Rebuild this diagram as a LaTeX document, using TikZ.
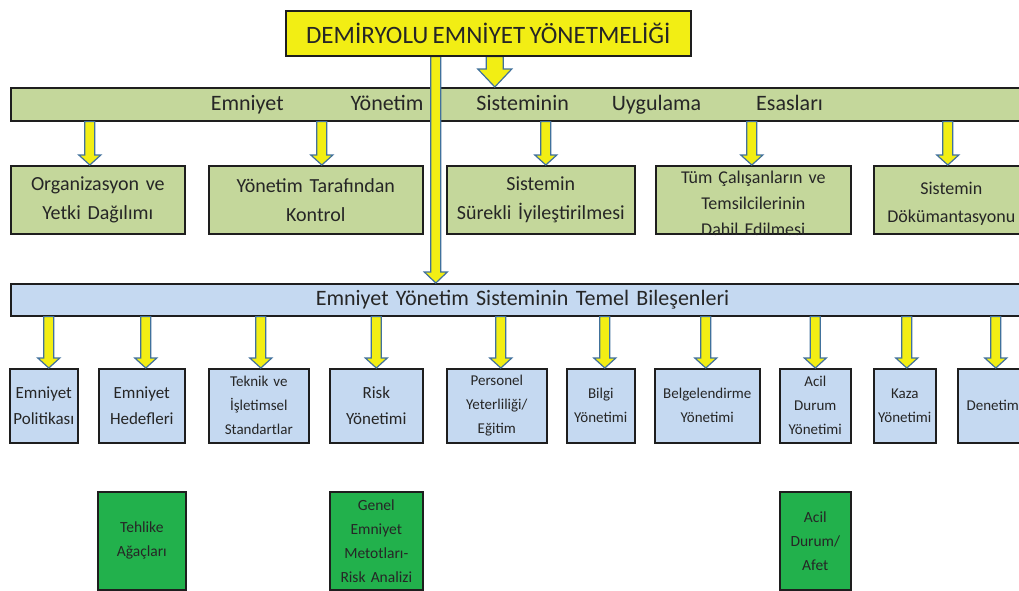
\documentclass[tikz,border=0pt]{standalone}
\usepackage{fontspec}
\setmainfont{Carlito}[WordSpace=0.75]
\usetikzlibrary{calc}
\definecolor{ylw}{HTML}{F2EE14}
\definecolor{arrline}{HTML}{41719C}
\definecolor{lgreen}{HTML}{C4D79B}
\definecolor{lblue}{HTML}{C5D9F1}
\definecolor{dgreen}{HTML}{22B14C}
\definecolor{txt}{HTML}{262626}
\definecolor{edge}{HTML}{1E1E1E}
\newcommand{\fs}[2]{\fontsize{#1}{#2}\selectfont}
\newcommand{\barrow}[5]{\draw[blockarr] let \p1=#1, \p2=#2 in (\x2-#3,\y1) -- (\x2-#3,\y2+#5) -- (\x2-#4,\y2+#5) -- (\x2,\y2) -- (\x2+#4,\y2+#5) -- (\x2+#3,\y2+#5) -- (\x2+#3,\y1) -- cycle;}
\tikzset{
  anybox/.style={draw=edge, line width=1.6pt, inner sep=0pt, align=center, anchor=north west, text=txt},
  titlebox/.style={anybox, fill=ylw, font=\fs{25}{28}},
  gbarsty/.style={anybox, fill=lgreen, font=\fs{22}{26}, align=left},
  bbarsty/.style={anybox, fill=lblue, font=\fs{22}{26}, align=left},
  gbox/.style={anybox, fill=lgreen, minimum height=68pt, font=\fs{20}{29}},
  bbox/.style={anybox, fill=lblue, minimum height=74pt, font=\fs{15}{24}},
  bboxbig/.style={bbox, font=\fs{17}{26}},
  dbox/.style={anybox, fill=dgreen, minimum height=98pt, font=\fs{15.5}{24}},
  blockarr/.style={fill=ylw, draw=arrline, line width=1.2pt, line join=miter},
}
\begin{document}
\begin{tikzpicture}[x=1pt,y=-1pt]
\useasboundingbox (0,0) rectangle (1019,590);
\clip (0,0) rectangle (1019,590);
\fill[white] (0,0) rectangle (1019,590);
% bars
\node[gbarsty, minimum width=1030pt, text width=1030pt, minimum height=33pt] (gbar) at (10,87)
  {\hspace*{200pt}Emniyet\hspace{67pt}Yönetim\hspace{53pt}Sisteminin\hspace{43pt}Uygulama\hspace{55pt}Esasları};
\node[bbarsty, minimum width=1030pt, text width=1030pt, minimum height=32pt] (bbar) at (10,283)
  {\hspace*{305pt}Emniyet Yönetim Sisteminin Temel Bileşenleri};
% green row
\node[gbox, minimum width=174pt, text width=174pt] (g1) at (10,165) {Organizasyon ve\\Yetki Dağılımı};
\node[gbox, minimum width=214pt, text width=214pt] (g2) at (208,165) {Yönetim Tarafından\\Kontrol};
\node[gbox, minimum width=188pt, text width=188pt] (g3) at (446,165) {Sistemin\\Sürekli İyileştirilmesi};
\node[gbox, minimum width=195pt, text width=195pt, font=\fs{18}{26}, text depth=46pt] (g4) at (655,165) {Tüm Çalışanların ve\\Temsilcilerinin\\Dahil Edilmesi};
\node[gbox, minimum width=155pt, text width=150pt, font=\fs{18}{28}, text depth=22pt] (g5) at (873,165) {Sistemin\\Dökümantasyonu};
% blue row
\node[bboxbig, minimum width=68pt, text width=68pt] (b1) at (9,368) {Emniyet\\Politikası};
\node[bboxbig, minimum width=86pt, text width=86pt] (b2) at (98,368) {Emniyet\\Hedefleri};
\node[bbox, minimum width=100pt, text width=100pt] (b3) at (208,368) {Teknik ve\\İşletimsel\\Standartlar};
\node[bboxbig, minimum width=93pt, text width=93pt] (b4) at (329,368) {Risk\\Yönetimi};
\node[bbox, minimum width=100pt, text width=100pt] (b5) at (446,368) {Personel\\Yeterliliği/\\Eğitim};
\node[bbox, minimum width=68pt, text width=68pt] (b6) at (566,368) {Bilgi\\Yönetimi};
\node[bbox, minimum width=105pt, text width=105pt] (b7) at (654,368) {Belgelendirme\\Yönetimi};
\node[bbox, minimum width=71pt, text width=71pt] (b8) at (779,368) {Acil\\Durum\\Yönetimi};
\node[bbox, minimum width=62pt, text width=62pt] (b9) at (873,368) {Kaza\\Yönetimi};
\node[bbox, minimum width=70pt, text width=70pt] (b10) at (957,368) {Denetim};
% dark green row
\node[dbox, minimum width=88pt, text width=88pt] (d1) at (97,491) {Tehlike\\Ağaçları};
\node[dbox, minimum width=93pt, text width=93pt] (d2) at (329,491) {Genel\\Emniyet\\Metotları-\\Risk Analizi};
\node[dbox, minimum width=71pt, text width=71pt] (d3) at (779,491) {Acil\\Durum/\\Afet};
% arrows bar -> green row
\barrow{(gbar.south)}{([xshift=-8pt]g1.north)}{5pt}{11pt}{10pt}
\barrow{(gbar.south)}{([xshift=6pt]g2.north)}{5pt}{11pt}{10pt}
\barrow{(gbar.south)}{([xshift=5pt]g3.north)}{5pt}{11pt}{10pt}
\barrow{(gbar.south)}{([xshift=-1.5pt]g4.north)}{5pt}{11pt}{10pt}
\barrow{(gbar.south)}{([xshift=-3.5pt]g5.north)}{5pt}{11pt}{10pt}
% arrows bar -> blue row
\barrow{(bbar.south)}{([xshift=5pt]b1.north)}{5pt}{11pt}{10pt}
\barrow{(bbar.south)}{([xshift=4pt]b2.north)}{5pt}{11pt}{10pt}
\barrow{(bbar.south)}{([xshift=2pt]b3.north)}{5pt}{11pt}{10pt}
\barrow{(bbar.south)}{(b4.north)}{5pt}{11pt}{10pt}
\barrow{(bbar.south)}{([xshift=4pt]b5.north)}{5pt}{11pt}{10pt}
\barrow{(bbar.south)}{([xshift=4pt]b6.north)}{5pt}{11pt}{10pt}
\barrow{(bbar.south)}{([xshift=-1.5pt]b7.north)}{5pt}{11pt}{10pt}
\barrow{(bbar.south)}{(b8.north)}{5pt}{11pt}{10pt}
\barrow{(bbar.south)}{([xshift=2pt]b9.north)}{5pt}{11pt}{10pt}
\barrow{(bbar.south)}{([xshift=3pt]b10.north)}{5pt}{11pt}{10pt}
% title and its arrows
\node[titlebox, minimum width=405pt, minimum height=45pt] (title) at (285,10) {DEMİRYOLU EMNİYET YÖNETMELİĞİ};
\coordinate (lt) at ([xshift=-52.5pt]title.south);
\coordinate (st) at ([xshift=6.5pt]title.south);
\barrow{(title.south)}{(lt |- bbar.north)}{5pt}{11.5pt}{11pt}
\barrow{(title.south)}{(st |- gbar.north)}{8.5pt}{17pt}{18pt}
\draw[draw=edge, line width=1.6pt] (title.south west) -- (title.south east);
\end{tikzpicture}
\end{document}
